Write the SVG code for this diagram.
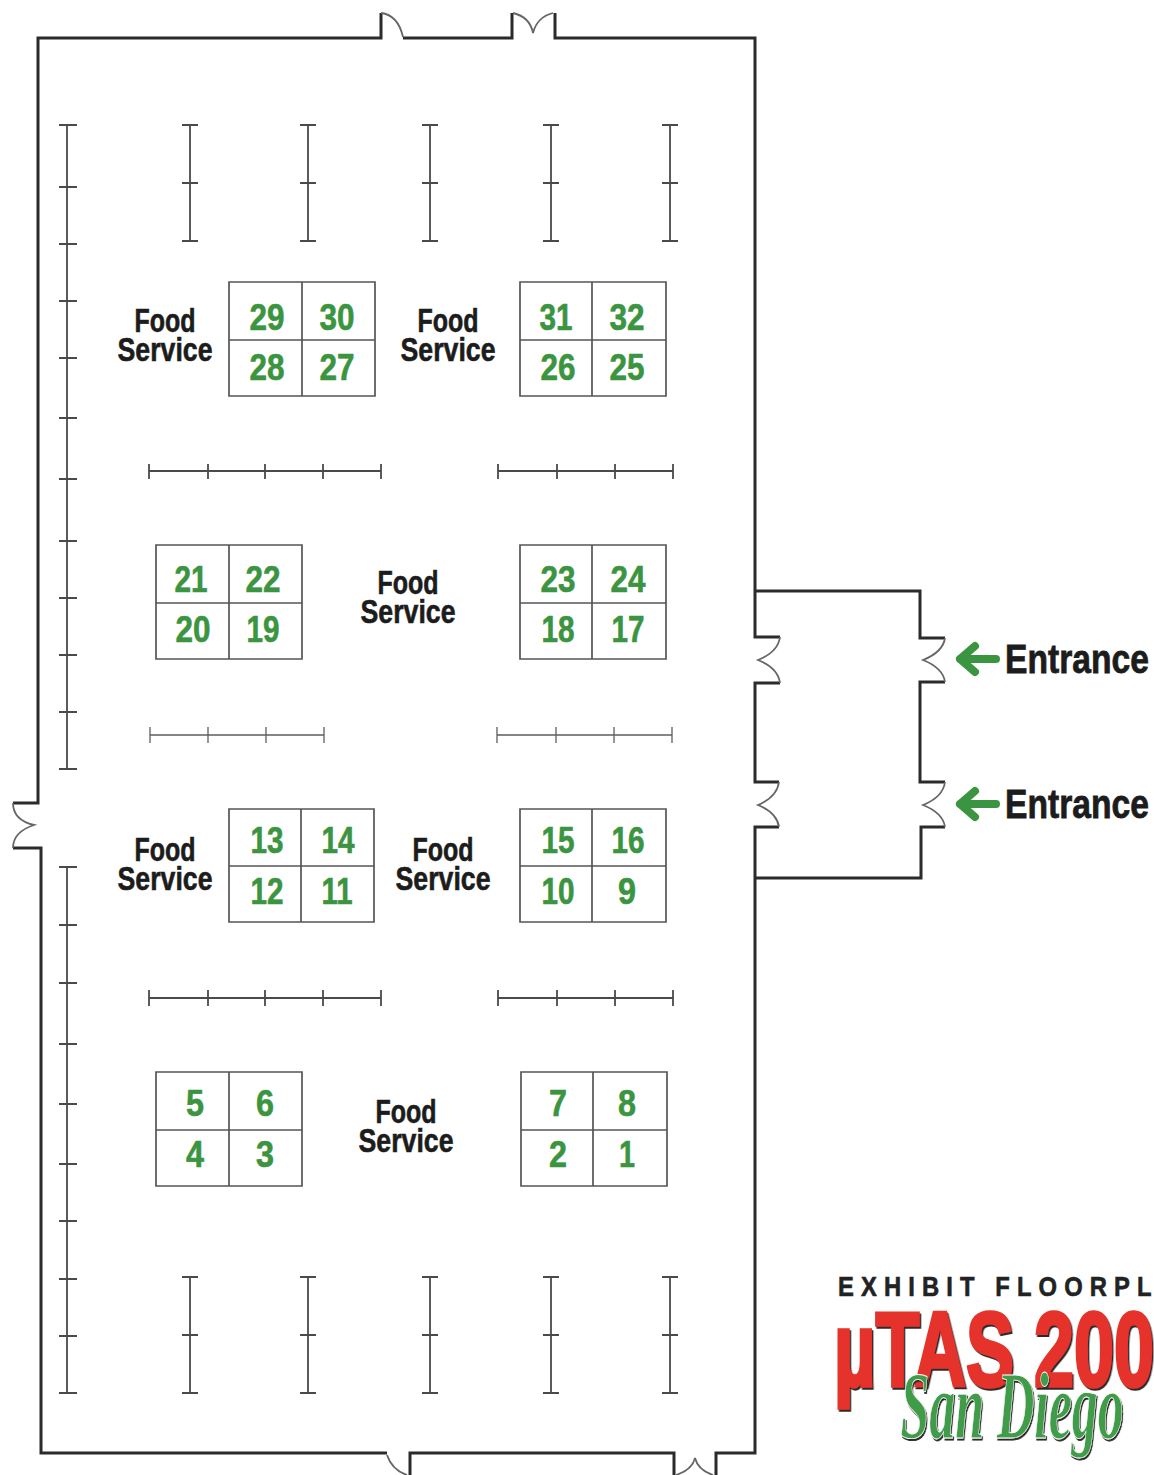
<svg xmlns="http://www.w3.org/2000/svg" width="1154" height="1475" viewBox="0 0 1154 1475">
<style>
text{font-family:"Liberation Sans",Arial,sans-serif;font-weight:700;text-anchor:middle}
.wall{fill:none;stroke:#2b2b2b;stroke-width:3}
.door{fill:none;stroke:#666;stroke-width:1.8}
.col{fill:none;stroke:#4a4a4a;stroke-width:1.8}
.thin{fill:none;stroke:#5e5e5e;stroke-width:1.3}
.booth{fill:#fff;stroke:#555;stroke-width:1.7}
.n{font-size:36px;fill:#3b9440;stroke:#3b9440;stroke-width:.6}
.fs{font-size:33px;fill:#1c1c1c;stroke:#1c1c1c;stroke-width:.6}
.ent{font-size:41px;fill:#1c1c1c;stroke:#1c1c1c;stroke-width:.8}
.arrow{fill:none;stroke:#3b9440;stroke-width:8;stroke-linecap:round;stroke-linejoin:round}
</style>
<defs>
<filter id="sh" x="-5%" y="-5%" width="110%" height="115%"><feDropShadow dx="2" dy="2" stdDeviation="0.4" flood-color="#2a2a2a"/></filter>
</defs>
<rect width="1154" height="1475" fill="#fff"/>
<g id="connectors">
<g id="walls">
<path class="wall" d="M381 13V38H38V803H13M13 848H41V1453H387M410 1475V1453H674V1475M716 1475V1453H755V827H779M779 782H755V683H780M780 637H755V38H555V13M512 13V38H403"/>
<path class="wall" d="M755 591H920V638H945M945 682H920V782H945M945 827H921V878H755"/>
</g>
<g id="doors">
<path class="door" d="M381 13Q398 15 403 37M513 13Q530 17 533 33Q537 17 553 13"/>
<path class="door" d="M780 637Q778 652 758 660Q778 668 780 683M779 782Q777 797 758 805Q777 813 779 827"/>
<path class="door" d="M945 638Q943 652 923 660Q943 668 945 682M945 782Q943 797 923 805Q943 813 945 827"/>
<path class="door" d="M13 803Q13 820 34 825Q13 832 13 848"/>
<path class="door" d="M387 1455Q392 1470 407 1475M676 1475Q692 1470 695 1458Q698 1470 713 1475"/>
</g>
<g id="columns">
<path class="col" d="M67 125V769M59 125H77M59 187H77M59 244H77M59 301H77M59 358H77M59 418H77M59 479H77M59 541H77M59 598H77M59 655H77M59 712H77M59 769H77"/>
<path class="col" d="M67 867V1393M59 867H77M59 925H77M59 983H77M59 1044H77M59 1104H77M59 1164H77M59 1221H77M59 1279H77M59 1336H77M59 1393H77"/>
<path class="col" d="M190 125V241M182 125H198M182 183H198M182 241H198M308 125V241M300 125H316M300 183H316M300 241H316M430 125V241M422 125H438M422 183H438M422 241H438M551 125V241M543 125H559M543 183H559M543 241H559M670 125V241M662 125H678M662 183H678M662 241H678"/>
<path class="col" d="M190 1277V1393M182 1277H198M182 1335H198M182 1393H198M308 1277V1393M300 1277H316M300 1335H316M300 1393H316M430 1277V1393M422 1277H438M422 1335H438M422 1393H438M551 1277V1393M543 1277H559M543 1335H559M543 1393H559M670 1277V1393M662 1277H678M662 1335H678M662 1393H678"/>
<path class="col" d="M149 471H381M149 464V479M208 464V479M265 464V479M323 464V479M381 464V479M498 471H673M498 464V479M557 464V479M615 464V479M673 464V479"/>
<path class="thin" d="M150 735H324M150 727V743M208 727V743M266 727V743M324 727V743M497 735H672M497 727V743M556 727V743M614 727V743M672 727V743"/>
<path class="col" d="M149 998H381M149 990V1006M208 990V1006M265 990V1006M323 990V1006M381 990V1006M498 998H673M498 990V1006M557 990V1006M615 990V1006M673 990V1006"/>
</g>
</g>
<g id="booths-29-27">
<path class="booth" d="M229 282H375V396H229ZM302 282V396M229 340H375"/>
<text class="n" x="267" y="330" textLength="35" lengthAdjust="spacingAndGlyphs">29</text>
<text class="n" x="337" y="330" textLength="35" lengthAdjust="spacingAndGlyphs">30</text>
<text class="n" x="267" y="380" textLength="35" lengthAdjust="spacingAndGlyphs">28</text>
<text class="n" x="337" y="380" textLength="35" lengthAdjust="spacingAndGlyphs">27</text>
</g>
<g id="booths-31-25">
<path class="booth" d="M520 282H666V396H520ZM592 282V396M520 340H666"/>
<text class="n" x="556" y="330" textLength="33" lengthAdjust="spacingAndGlyphs">31</text>
<text class="n" x="627" y="330" textLength="35" lengthAdjust="spacingAndGlyphs">32</text>
<text class="n" x="558" y="380" textLength="35" lengthAdjust="spacingAndGlyphs">26</text>
<text class="n" x="627" y="380" textLength="35" lengthAdjust="spacingAndGlyphs">25</text>
</g>
<g id="booths-21-19">
<path class="booth" d="M156 545H302V659H156ZM229 545V659M156 603H302"/>
<text class="n" x="191" y="592" textLength="33" lengthAdjust="spacingAndGlyphs">21</text>
<text class="n" x="263" y="592" textLength="35" lengthAdjust="spacingAndGlyphs">22</text>
<text class="n" x="193" y="642" textLength="35" lengthAdjust="spacingAndGlyphs">20</text>
<text class="n" x="263" y="642" textLength="33" lengthAdjust="spacingAndGlyphs">19</text>
</g>
<g id="booths-23-17">
<path class="booth" d="M520 545H666V659H520ZM592 545V659M520 603H666"/>
<text class="n" x="558" y="592" textLength="35" lengthAdjust="spacingAndGlyphs">23</text>
<text class="n" x="628" y="592" textLength="35" lengthAdjust="spacingAndGlyphs">24</text>
<text class="n" x="558" y="642" textLength="33" lengthAdjust="spacingAndGlyphs">18</text>
<text class="n" x="628" y="642" textLength="33" lengthAdjust="spacingAndGlyphs">17</text>
</g>
<g id="booths-13-11">
<path class="booth" d="M229 809H374V922H229ZM301 809V922M229 866H374"/>
<text class="n" x="267" y="853" textLength="33" lengthAdjust="spacingAndGlyphs">13</text>
<text class="n" x="338" y="853" textLength="33" lengthAdjust="spacingAndGlyphs">14</text>
<text class="n" x="267" y="904" textLength="33" lengthAdjust="spacingAndGlyphs">12</text>
<text class="n" x="337" y="904" textLength="31" lengthAdjust="spacingAndGlyphs">11</text>
</g>
<g id="booths-15-9">
<path class="booth" d="M520 809H666V922H520ZM592 809V922M520 866H666"/>
<text class="n" x="558" y="853" textLength="33" lengthAdjust="spacingAndGlyphs">15</text>
<text class="n" x="628" y="853" textLength="33" lengthAdjust="spacingAndGlyphs">16</text>
<text class="n" x="558" y="904" textLength="33" lengthAdjust="spacingAndGlyphs">10</text>
<text class="n" x="627" y="904" textLength="18" lengthAdjust="spacingAndGlyphs">9</text>
</g>
<g id="booths-5-3">
<path class="booth" d="M156 1072H302V1186H156ZM229 1072V1186M156 1130H302"/>
<text class="n" x="195" y="1116" textLength="18" lengthAdjust="spacingAndGlyphs">5</text>
<text class="n" x="265" y="1116" textLength="18" lengthAdjust="spacingAndGlyphs">6</text>
<text class="n" x="195" y="1167" textLength="18" lengthAdjust="spacingAndGlyphs">4</text>
<text class="n" x="265" y="1167" textLength="18" lengthAdjust="spacingAndGlyphs">3</text>
</g>
<g id="booths-7-1">
<path class="booth" d="M521 1072H667V1186H521ZM593 1072V1186M521 1130H667"/>
<text class="n" x="558" y="1116" textLength="18" lengthAdjust="spacingAndGlyphs">7</text>
<text class="n" x="627" y="1116" textLength="18" lengthAdjust="spacingAndGlyphs">8</text>
<text class="n" x="558" y="1167" textLength="18" lengthAdjust="spacingAndGlyphs">2</text>
<text class="n" x="627" y="1167" textLength="16" lengthAdjust="spacingAndGlyphs">1</text>
</g>
<g id="food-service-1"><text class="fs" x="165" y="332" textLength="61" lengthAdjust="spacingAndGlyphs">Food</text><text class="fs" x="165" y="361" textLength="95" lengthAdjust="spacingAndGlyphs">Service</text></g>
<g id="food-service-2"><text class="fs" x="448" y="332" textLength="61" lengthAdjust="spacingAndGlyphs">Food</text><text class="fs" x="448" y="361" textLength="95" lengthAdjust="spacingAndGlyphs">Service</text></g>
<g id="food-service-3"><text class="fs" x="408" y="594" textLength="61" lengthAdjust="spacingAndGlyphs">Food</text><text class="fs" x="408" y="623" textLength="95" lengthAdjust="spacingAndGlyphs">Service</text></g>
<g id="food-service-4"><text class="fs" x="165" y="861" textLength="61" lengthAdjust="spacingAndGlyphs">Food</text><text class="fs" x="165" y="890" textLength="95" lengthAdjust="spacingAndGlyphs">Service</text></g>
<g id="food-service-5"><text class="fs" x="443" y="861" textLength="61" lengthAdjust="spacingAndGlyphs">Food</text><text class="fs" x="443" y="890" textLength="95" lengthAdjust="spacingAndGlyphs">Service</text></g>
<g id="food-service-6"><text class="fs" x="406" y="1123" textLength="61" lengthAdjust="spacingAndGlyphs">Food</text><text class="fs" x="406" y="1152" textLength="95" lengthAdjust="spacingAndGlyphs">Service</text></g>
<g id="entrance-1">
<path class="arrow" d="M996 659H960M975 646L960 659L975 672"/>
<text class="ent" transform="translate(1077 673) scale(.82 1)">Entrance</text>
</g>
<g id="entrance-2">
<path class="arrow" d="M996 804H960M975 791L960 804L975 817"/>
<text class="ent" transform="translate(1077 818) scale(.82 1)">Entrance</text>
</g>
<g id="logo">
<text transform="translate(838 1296) scale(.88 1)" font-size="27" fill="#222" stroke="#222" stroke-width=".6" letter-spacing="8.1" style="text-anchor:start">EXHIBIT FLOORPL</text>
<text transform="translate(994 1386) scale(.685 1)" font-size="105" fill="#e5312a" stroke="#e5312a" stroke-width="3.5" filter="url(#sh)">µTAS 200</text>
<text transform="translate(1012 1438) scale(.54 1)" font-size="96" fill="#3f9c48" stroke="#fff" stroke-width="0.8" filter="url(#sh)" style="font-family:'Liberation Serif',serif;font-style:italic">San Diego</text>
</g>
</svg>
